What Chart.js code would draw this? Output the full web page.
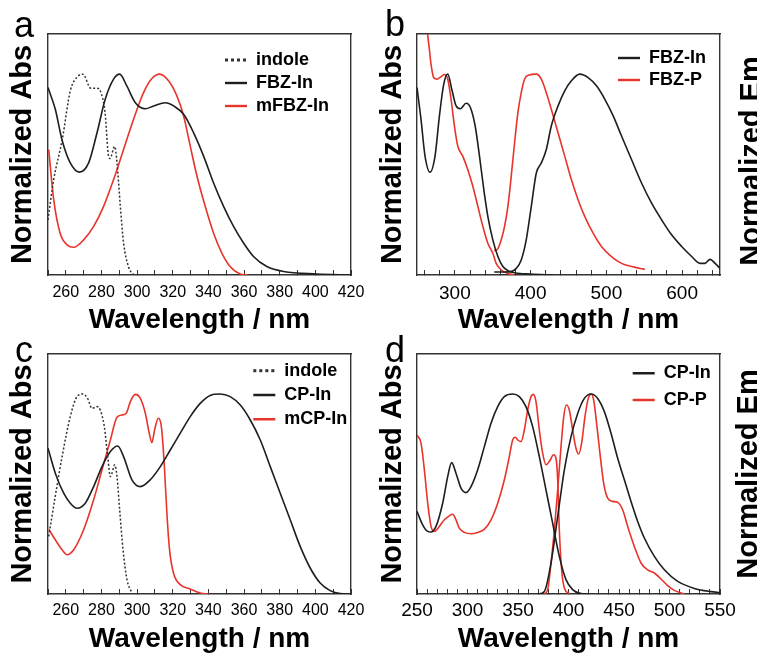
<!DOCTYPE html>
<html>
<head>
<meta charset="utf-8">
<script src="https://cdn.jsdelivr.net/npm/chart.js@4.4.1/dist/chart.umd.min.js"></script>
<style>
  body { margin: 0; background: #fff; width: 757px; height: 656px; overflow: hidden; position: relative; font-family: 'Liberation Sans', Arial, sans-serif; }
  canvas { position: absolute; }
  .tag { position: absolute; font-size: 36px; line-height: 36px; color: #000; }
  .em { position: absolute; font-weight: bold; font-size: 29px; line-height: 29px; white-space: nowrap; color: #000;
        transform: translate(-50%, -50%) rotate(-90deg); }
</style>
</head>
<body>
<canvas id="chartA" width="378" height="334" style="left:0;top:0"></canvas>
<canvas id="chartB" width="379" height="334" style="left:378px;top:0"></canvas>
<canvas id="chartC" width="378" height="322" style="left:0;top:334px"></canvas>
<canvas id="chartD" width="379" height="322" style="left:378px;top:334px"></canvas>

<div class="tag" style="left:14px;top:7px">a</div>
<div class="tag" style="left:385px;top:6px">b</div>
<div class="tag" style="left:15px;top:332px">c</div>
<div class="tag" style="left:385px;top:332px">d</div>
<div class="em" style="left:750px;top:161px">Normalized Em</div>
<div class="em" style="left:747px;top:474px">Normalized Em</div>

<script>
// panel a - absorption, 250-420 nm
const aIndoleNm = [250, 253.2, 258, 262.5, 266.3, 269.6, 274, 277.5, 279.3, 282, 284, 284.8, 287.4, 288.7, 290.6, 292.4, 295.2, 298];
const aIndoleAbs = [0.275, 0.475, 0.675, 0.917, 0.985, 1.0, 0.93, 0.93, 0.917, 0.81, 0.59, 0.58, 0.64, 0.56, 0.34, 0.16, 0.04, 0.0];
const aFbzNm = [250, 254.1, 257.8, 262.5, 267.6, 272.8, 277.5, 282.1, 286.8, 290.2, 294.3, 299, 304.6, 309.3, 315.8, 320.5, 326.1, 331.7, 337.3, 342.9, 348.5, 354.1, 359.8, 365.3, 372.8, 382.2, 400.8, 420];
const aFbzAbs = [0.933, 0.825, 0.675, 0.558, 0.512, 0.558, 0.708, 0.875, 0.975, 1.0, 0.94, 0.858, 0.828, 0.842, 0.858, 0.842, 0.8, 0.708, 0.592, 0.458, 0.342, 0.242, 0.158, 0.092, 0.042, 0.017, 0.005, 0.0];
const aMfbzNm = [250.4, 253.2, 256.8, 260.7, 264.4, 270, 275.6, 281.2, 286.8, 292.4, 298, 303.6, 308.3, 312.6, 317.6, 322.3, 326.1, 329.8, 333.6, 338.2, 342.9, 347.6, 352.2, 357.8, 362];
const aMfbzAbs = [0.625, 0.375, 0.208, 0.15, 0.138, 0.175, 0.242, 0.342, 0.475, 0.625, 0.775, 0.908, 0.978, 1.0, 0.967, 0.892, 0.792, 0.642, 0.492, 0.342, 0.208, 0.108, 0.042, 0.005, 0.0];

// panel b - absorption + emission, 250-650 nm
const bFbzAbsNm = [250, 255.3, 260.6, 267.2, 273.8, 279.6, 285.3, 290.6, 295.9, 301.6, 307.3, 314.8, 320.6, 326.8, 332.5, 338.2, 343.5, 350.1, 356.8, 363.4, 370, 380, 400, 430];
const bFbzAbs = [0.933, 0.775, 0.592, 0.512, 0.592, 0.792, 0.95, 1.0, 0.925, 0.842, 0.828, 0.855, 0.833, 0.742, 0.592, 0.425, 0.292, 0.175, 0.092, 0.042, 0.022, 0.01, 0.005, 0.0];
const bFbzEmNm = [352, 366, 375, 381, 387.6, 394.2, 400.9, 407.5, 414.1, 420.7, 427.3, 436.2, 445, 453.8, 464.8, 475.9, 486.9, 498, 509, 520, 533.2, 546.4, 559.7, 572.9, 586.1, 599.4, 612.6, 623.6, 630.2, 636.9, 643.5, 650];
const bFbzEm = [0.015, 0.015, 0.018, 0.033, 0.075, 0.175, 0.342, 0.508, 0.558, 0.625, 0.742, 0.842, 0.917, 0.967, 1.0, 0.983, 0.942, 0.875, 0.792, 0.692, 0.575, 0.458, 0.358, 0.275, 0.2, 0.142, 0.092, 0.058, 0.058, 0.078, 0.058, 0.033];
const bFbzpAbsNm = [255, 260, 264, 266.3, 268.5, 272, 276.5, 281.8, 286.2, 290.6, 295, 299.4, 303.8, 310.4, 317, 323.7, 330.3, 336.9, 343.5, 350.1, 354.5, 361.2, 370, 378.8];
const bFbzpAbs = [1.6, 1.4, 1.2, 1.125, 1.05, 0.983, 0.975, 0.988, 0.998, 0.975, 0.875, 0.742, 0.642, 0.592, 0.525, 0.442, 0.342, 0.242, 0.158, 0.108, 0.058, 0.025, 0.008, 0.0];
const bFbzpEmNm = [352, 357, 361.2, 365.6, 370, 374.4, 378.8, 383.2, 387.6, 392, 397.3, 407.5, 414.1, 420.7, 427.3, 436.2, 445, 453.8, 462.6, 471.4, 482.5, 493.5, 506.7, 520, 533.2, 550.8];
const bFbzpEm = [0.12, 0.133, 0.175, 0.242, 0.342, 0.492, 0.658, 0.808, 0.908, 0.975, 0.995, 1.0, 0.975, 0.908, 0.825, 0.708, 0.592, 0.475, 0.375, 0.292, 0.208, 0.142, 0.092, 0.058, 0.042, 0.028];

// panel c - absorption, 250-420 nm
const cIndoleNm = [250.4, 254.1, 257.9, 262.5, 266.3, 269.6, 272.2, 274.7, 277.5, 279.3, 281.6, 283.5, 285, 285.9, 287.4, 288.7, 290.2, 292.1, 294.3, 297.1];
const cIndoleAbs = [0.288, 0.49, 0.687, 0.887, 0.987, 1.0, 0.978, 0.928, 0.937, 0.92, 0.837, 0.687, 0.587, 0.604, 0.646, 0.587, 0.421, 0.221, 0.072, 0.005];
const cCpNm = [250, 254.1, 258.8, 262.5, 266.3, 270.9, 275.6, 280.3, 285, 289.1, 292.4, 297.1, 301.8, 307.4, 313, 318.6, 324.2, 329.8, 335.4, 341, 346.6, 352.2, 357.9, 363.5, 369.1, 374.7, 380.3, 385.9, 391.5, 397.1, 402.7, 408.3, 413.9, 419.5];
const cCpAbs = [0.729, 0.604, 0.504, 0.454, 0.429, 0.454, 0.537, 0.637, 0.712, 0.74, 0.687, 0.571, 0.537, 0.571, 0.637, 0.72, 0.804, 0.887, 0.953, 0.993, 1.0, 0.987, 0.945, 0.87, 0.77, 0.637, 0.504, 0.371, 0.238, 0.13, 0.055, 0.017, 0.002, 0.0];
const cMcpNm = [250.4, 254.1, 257.9, 260.7, 264.4, 270, 275.6, 280.3, 285, 288.7, 291.5, 293.9, 296.2, 299, 301.8, 304.6, 306.8, 308.3, 309.8, 311.9, 313.6, 315.2, 316.7, 318.2, 320.4, 324.2, 329.8, 335.4, 340.1];
const cMcpAbs = [0.324, 0.271, 0.221, 0.196, 0.221, 0.321, 0.471, 0.621, 0.77, 0.884, 0.895, 0.904, 0.962, 0.998, 0.978, 0.904, 0.804, 0.757, 0.82, 0.879, 0.837, 0.654, 0.404, 0.221, 0.105, 0.047, 0.025, 0.005, 0.0];

// panel d - absorption + emission, 250-550 nm
const dCpAbsNm = [250, 255.6, 260.6, 263.9, 268.8, 275.4, 280.4, 284.3, 288.6, 293.6, 298.5, 303.5, 310.1, 316.7, 323.3, 329.9, 336.5, 344.7, 351.3, 357.9, 364.5, 371.1, 377.7, 384.3, 390.9, 397.5, 404.1, 412.4, 420];
const dCpAbs = [0.413, 0.346, 0.313, 0.31, 0.338, 0.454, 0.587, 0.657, 0.604, 0.529, 0.507, 0.537, 0.621, 0.737, 0.854, 0.937, 0.987, 1.0, 0.987, 0.937, 0.837, 0.687, 0.521, 0.354, 0.188, 0.072, 0.022, 0.002, 0.0];
const dCpEmNm = [369.5, 376.1, 382.7, 389.3, 395.9, 402.5, 409.1, 415.7, 422.3, 428.9, 435.5, 442.1, 448.7, 455.3, 461.9, 468.5, 475.1, 485, 494.9, 508.1, 524.6, 541.1, 550];
const dCpEm = [0.0, 0.013, 0.155, 0.388, 0.621, 0.787, 0.903, 0.978, 1.0, 0.978, 0.912, 0.804, 0.679, 0.571, 0.463, 0.363, 0.28, 0.188, 0.121, 0.063, 0.028, 0.012, 0.007];
const dCppAbsNm = [250, 254, 257.3, 260.6, 263.9, 267.2, 272.1, 277.1, 282, 285.3, 288.6, 291.9, 296.9, 303.5, 310.1, 316.7, 323.3, 329.9, 336.5, 341.4, 344.7, 347.4, 349.7, 353, 356.3, 359.6, 362.9, 365.2, 367.8, 371.1, 374.4, 377.7, 381, 385.3, 387.6, 389.3, 390.9, 393.2, 395.9, 400.8];
const dCppAbs = [0.795, 0.754, 0.621, 0.454, 0.338, 0.313, 0.338, 0.371, 0.391, 0.399, 0.371, 0.329, 0.308, 0.301, 0.308, 0.324, 0.371, 0.454, 0.571, 0.687, 0.77, 0.784, 0.77, 0.762, 0.82, 0.92, 0.987, 0.998, 0.962, 0.82, 0.704, 0.646, 0.662, 0.696, 0.679, 0.571, 0.321, 0.121, 0.03, 0.002];
const dCppEmNm = [376, 379.4, 382.7, 386, 389.3, 392.6, 395.3, 397.9, 400.8, 404.1, 407.4, 410.1, 413, 416.3, 419.6, 422.3, 424.9, 428.2, 431.5, 434.8, 438.8, 443.7, 448.7, 453.6, 458.6, 465.2, 471.8, 478.4, 485, 491.6, 498.2, 504.8, 511.4, 514.7];
const dCppEm = [0.0, 0.022, 0.155, 0.321, 0.521, 0.737, 0.887, 0.945, 0.92, 0.82, 0.729, 0.7, 0.754, 0.887, 0.978, 1.0, 0.97, 0.837, 0.687, 0.554, 0.479, 0.463, 0.458, 0.421, 0.338, 0.238, 0.155, 0.121, 0.105, 0.075, 0.042, 0.018, 0.005, 0.0];

const BLACK = '#1e1e1e';
const RED = '#e8342b';
const FRAME = '#333';

Chart.defaults.font.family = "'Liberation Sans', Arial, sans-serif";
Chart.defaults.color = '#000';

function pts(nm, val) {
    return nm.map((x, i) => ({ x: x, y: val[i] }));
}

function line(label, nm, val, color, extra) {
    return Object.assign({
        label: label,
        data: pts(nm, val),
        borderColor: color,
        backgroundColor: color,
        borderWidth: 1.6,
        pointRadius: 0,
        cubicInterpolationMode: 'monotone',
        fill: false
    }, extra || {});
}

// thicker samples in the legend, bold dots for indole
function legendItems(chart) {
    const items = Chart.defaults.plugins.legend.labels.generateLabels(chart);
    items.forEach(it => {
        const ds = chart.data.datasets[it.datasetIndex];
        if (ds.borderDash) {
            it.lineWidth = 3;
            it.lineDash = [3, 3];
        } else {
            it.lineWidth = 2.4;
        }
    });
    return items;
}

// puts the legend at a fixed spot inside the plot box
const legendSpot = {
    id: 'legendSpot',
    afterLayout(chart, args, opts) {
        const lg = chart.legend;
        if (!lg || opts.left == null) return;
        const w = lg.width;
        const h = chart.chartArea.bottom - opts.top;
        lg.left = opts.left;
        lg.top = opts.top;
        lg.right = opts.left + w;
        lg.bottom = opts.top + h;
        lg.height = h;
    }
};

function makeChart(id, p, datasets) {
    const border = { display: true, color: FRAME, width: 1.4 };
    new Chart(document.getElementById(id), {
        type: 'line',
        data: { datasets: datasets },
        plugins: [legendSpot],
        options: {
            responsive: false,
            animation: false,
            events: [],
            layout: { padding: { top: p.padTop, left: 0, right: 0, bottom: 0 } },
            plugins: {
                tooltip: { enabled: false },
                legend: {
                    position: 'chartArea',
                    align: 'start',
                    labels: {
                        usePointStyle: true,
                        pointStyle: 'line',
                        pointStyleWidth: 22,
                        padding: p.legPad,
                        color: '#000',
                        font: { size: 18, weight: 'bold' },
                        generateLabels: legendItems,
                        filter: (item, data) => !data.datasets[item.datasetIndex].noLegend
                    }
                },
                legendSpot: { left: p.legLeft, top: p.legTop }
            },
            scales: {
                x: {
                    type: 'linear',
                    min: p.min,
                    max: p.max,
                    afterFit: s => { s.height = p.xH; },
                    border: border,
                    grid: {
                        drawOnChartArea: false,
                        drawTicks: true,
                        tickLength: -5,
                        tickWidth: 1,
                        tickColor: c => (c.tick && c.tick.value % p.tickStep === 0) ? FRAME : 'rgba(0,0,0,0)'
                    },
                    ticks: {
                        stepSize: 10,
                        autoSkip: false,
                        maxRotation: 0,
                        minRotation: 0,
                        maxTicksLimit: 200,
                        padding: p.tickPad,
                        color: '#000',
                        font: { size: p.tickSize },
                        callback: v => (v % p.labelStep === 0) ? String(v) : ''
                    },
                    title: {
                        display: true,
                        text: 'Wavelength / nm',
                        color: '#000',
                        font: { size: 28, weight: 'bold', lineHeight: 1 },
                        padding: { top: 0, bottom: p.xTitlePad }
                    }
                },
                xTop: {
                    type: 'linear',
                    position: 'top',
                    min: p.min,
                    max: p.max,
                    afterFit: s => { s.height = 0; },
                    ticks: { display: false },
                    grid: { display: false },
                    border: border
                },
                y: {
                    min: 0,
                    max: 1.2,
                    afterFit: s => { s.width = p.yW; },
                    ticks: { display: false },
                    grid: { display: false },
                    border: border,
                    title: {
                        display: true,
                        text: 'Normalized Abs',
                        color: '#000',
                        font: { size: 29, weight: 'bold', lineHeight: 1 },
                        padding: { top: p.yTitlePad, bottom: 0 }
                    }
                },
                yRight: {
                    position: 'right',
                    min: 0,
                    max: 1.2,
                    afterFit: s => { s.width = p.rW; },
                    ticks: { display: false },
                    grid: { display: false },
                    border: border
                }
            }
        }
    });
}

makeChart('chartA',
    { min: 250, max: 420, padTop: 34, xH: 59, yW: 48, rW: 27, tickStep: 10, labelStep: 20, tickPad: 12.9, tickSize: 16,
      xTitlePad: 0, yTitlePad: 8, legPad: 5, legLeft: 220, legTop: 46 },
    [
        line('indole', aIndoleNm, aIndoleAbs, '#333', { borderDash: [2, 2], borderWidth: 1.5 }),
        line('FBZ-In', aFbzNm, aFbzAbs, BLACK),
        line('mFBZ-In', aMfbzNm, aMfbzAbs, RED)
    ]);

makeChart('chartB',
    { min: 250, max: 650, padTop: 34, xH: 59, yW: 39, rW: 37, tickStep: 20, labelStep: 100, tickPad: 11.9, tickSize: 19,
      xTitlePad: 0, yTitlePad: 0, legPad: 4, legLeft: 236, legTop: 45 },
    [
        line('FBZ-In', bFbzAbsNm, bFbzAbs, BLACK),
        line('FBZ-In', bFbzEmNm, bFbzEm, BLACK, { noLegend: true }),
        line('FBZ-P', bFbzpAbsNm, bFbzpAbs, RED),
        line('FBZ-P', bFbzpEmNm, bFbzpEm, RED, { noLegend: true })
    ]);

makeChart('chartC',
    { min: 250, max: 420, padTop: 20, xH: 62, yW: 48, rW: 27, tickStep: 10, labelStep: 20, tickPad: 11.7, tickSize: 16,
      xTitlePad: 2.5, yTitlePad: 8.5, legPad: 6.3, legLeft: 247, legTop: 21.4 },
    [
        line('indole', cIndoleNm, cIndoleAbs, '#333', { borderDash: [2, 2], borderWidth: 1.5 }),
        line('CP-In', cCpNm, cCpAbs, BLACK),
        line('mCP-In', cMcpNm, cMcpAbs, RED)
    ]);

makeChart('chartD',
    { min: 250, max: 550, padTop: 20, xH: 62, yW: 39, rW: 37, tickStep: 10, labelStep: 50, tickPad: 9.9, tickSize: 19,
      xTitlePad: 2.5, yTitlePad: 0, legPad: 8.7, legLeft: 246, legTop: 21.6 },
    [
        line('CP-In', dCpAbsNm, dCpAbs, BLACK),
        line('CP-In', dCpEmNm, dCpEm, BLACK, { noLegend: true }),
        line('CP-P', dCppAbsNm, dCppAbs, RED),
        line('CP-P', dCppEmNm, dCppEm, RED, { noLegend: true })
    ]);
</script>
</body>
</html>
